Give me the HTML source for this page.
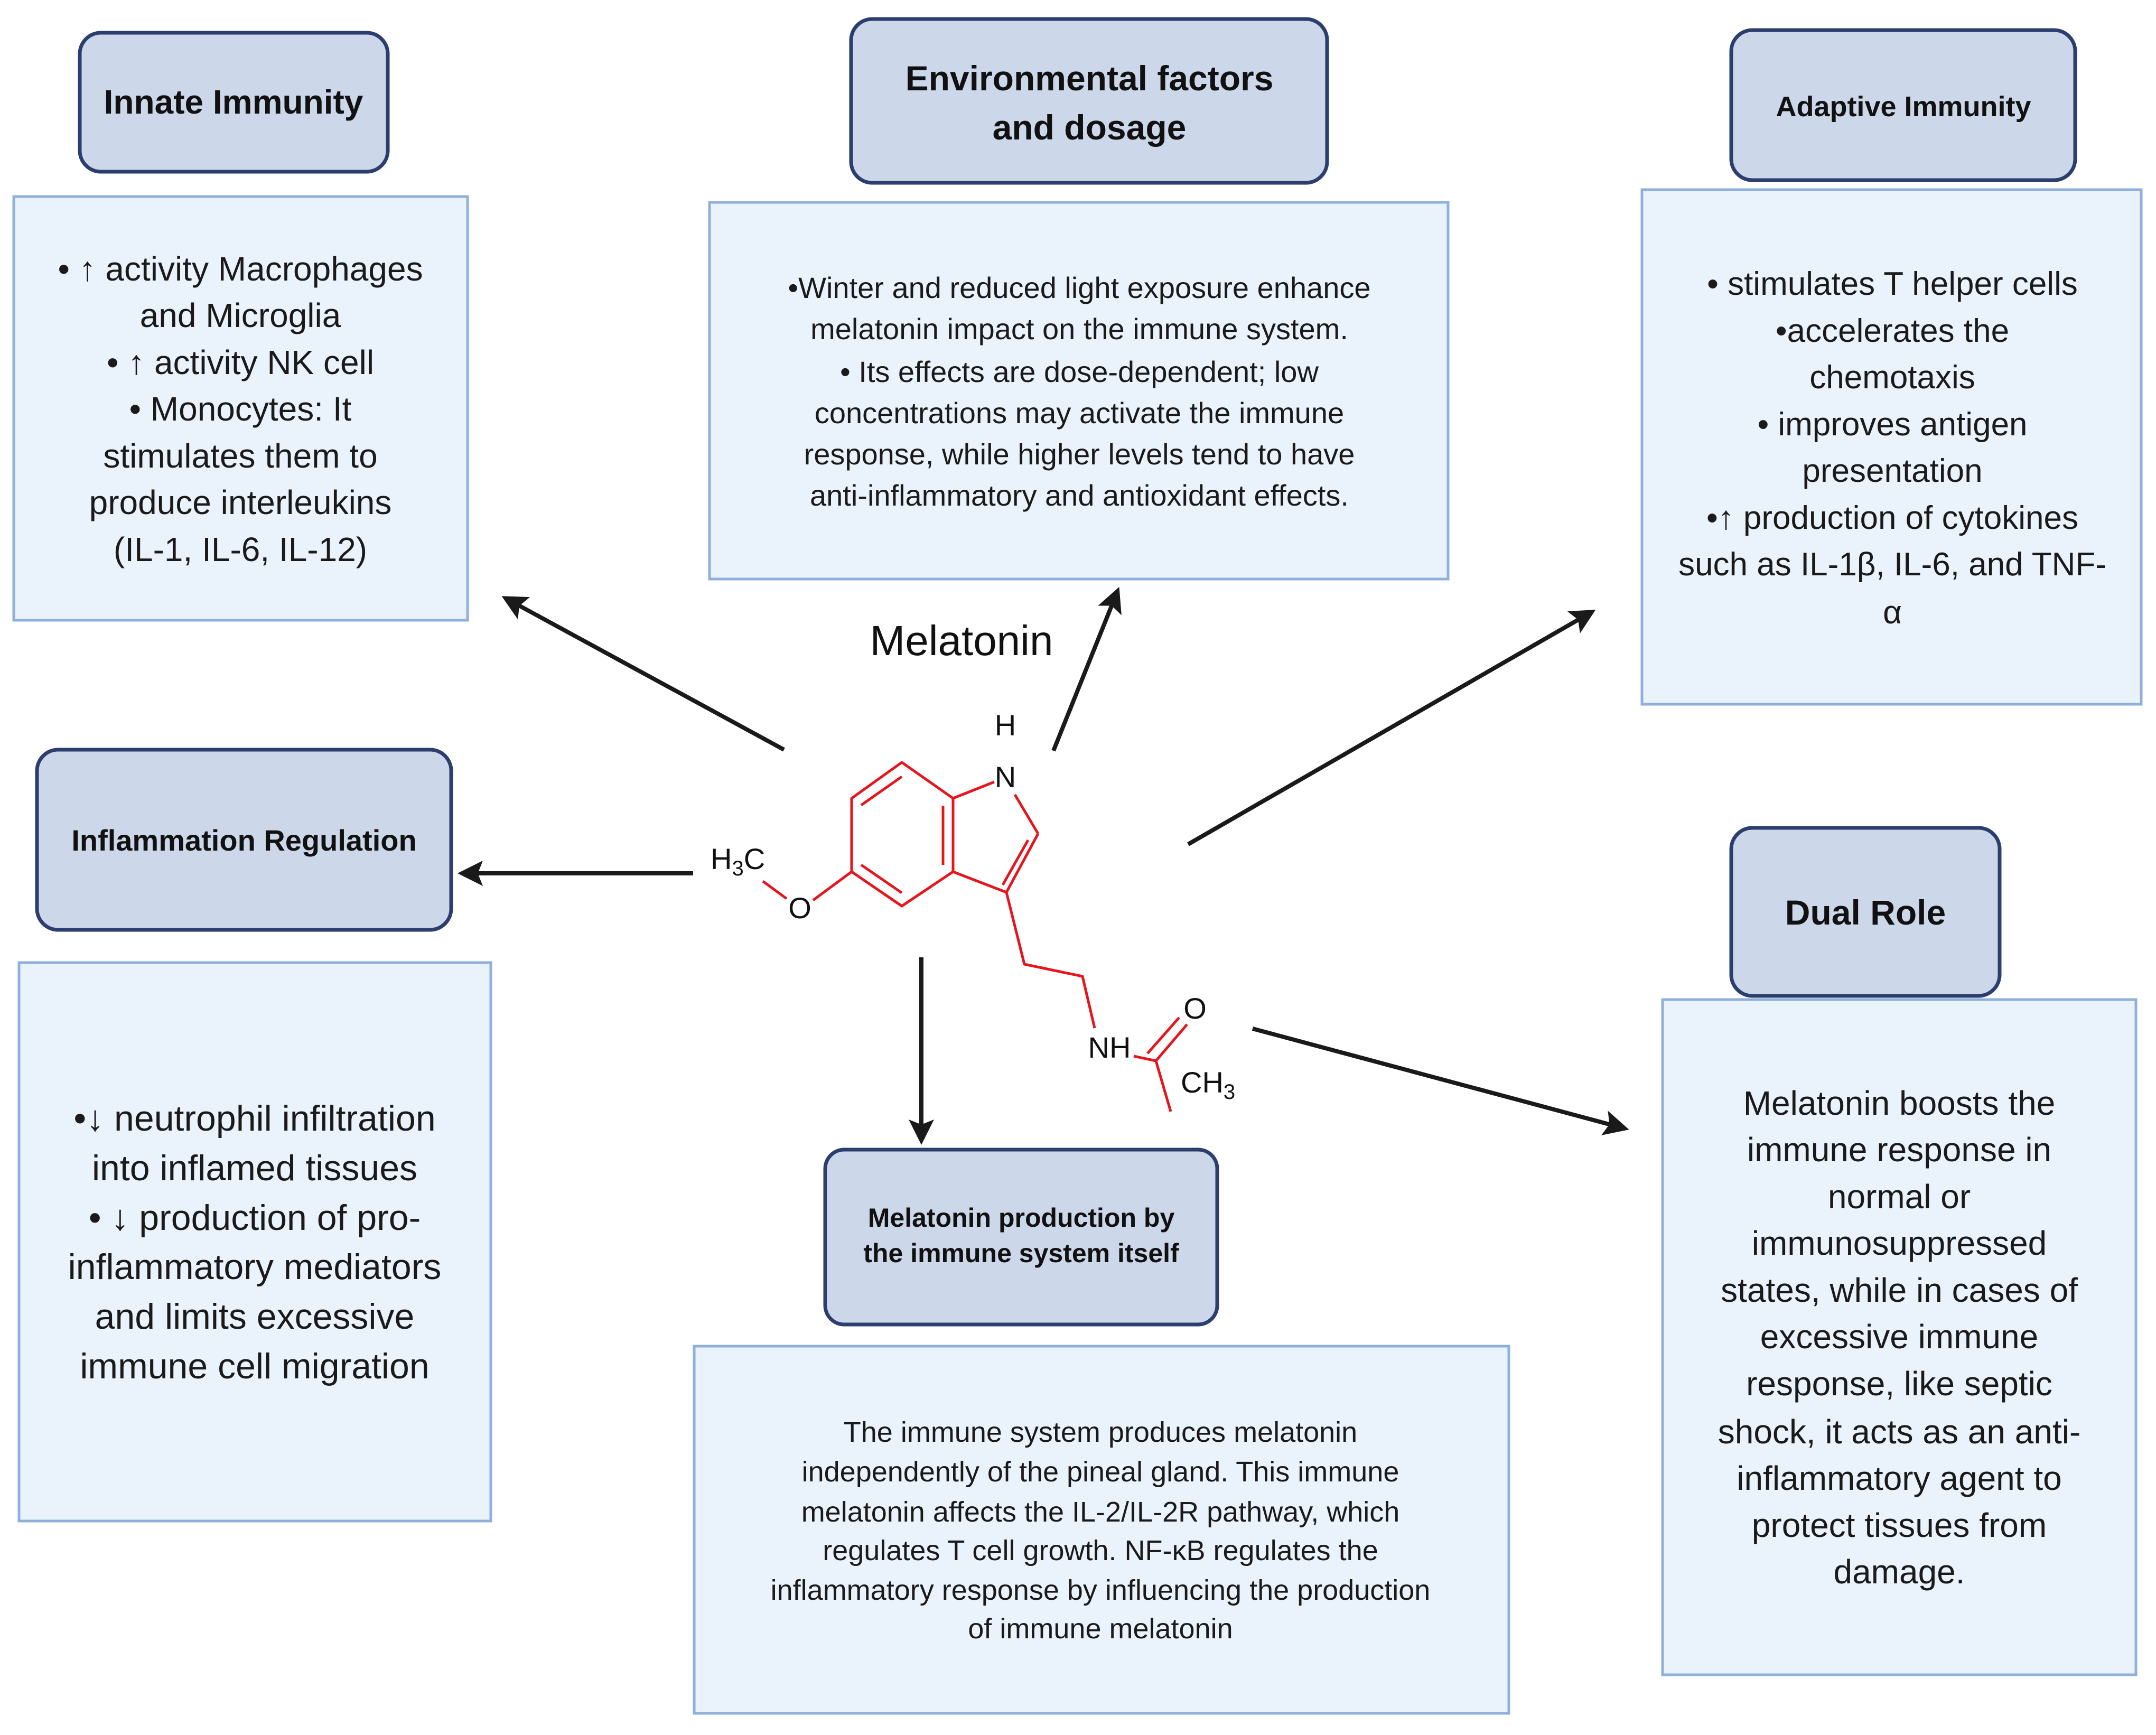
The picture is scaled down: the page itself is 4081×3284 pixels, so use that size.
<!DOCTYPE html>
<html><head><meta charset="utf-8"><style>
html,body{margin:0;padding:0;background:#fff;}
svg{display:block;}
.h{font-family:"Liberation Sans",sans-serif;font-weight:bold;fill:#111;text-anchor:middle;}
.t{font-family:"Liberation Sans",sans-serif;fill:#1a1a1a;text-anchor:middle;}
.a{font-family:"Liberation Sans",sans-serif;fill:#111;}
</style></head><body>
<svg width="4081" height="3284" viewBox="0 0 4081 3284" xmlns="http://www.w3.org/2000/svg">
<defs>
<marker id="ah" markerWidth="6" markerHeight="6" refX="4.5" refY="3" orient="auto" markerUnits="strokeWidth">
<path d="M0,0 L6,3 L0,6 L1.2,3 Z" fill="#1a1a1a"/>
</marker>
</defs>
<rect width="4081" height="3284" fill="#fff"/>

<!-- content boxes -->
<g fill="#eaf2fc" stroke="#8fb0dc" stroke-width="5">
<rect x="26" y="372" width="859" height="802"/>
<rect x="1343" y="383" width="1398" height="713"/>
<rect x="3108" y="359" width="945" height="974"/>
<rect x="36" y="1822" width="893" height="1057"/>
<rect x="1314" y="2548" width="1542" height="695"/>
<rect x="3147" y="1892" width="896" height="1278"/>
</g>

<!-- header boxes -->
<g fill="#cdd7ea" stroke="#2c3e6e" stroke-width="7">
<rect x="151" y="62" width="583" height="263" rx="40"/>
<rect x="1611" y="36" width="901" height="310" rx="40"/>
<rect x="3277" y="57" width="651" height="284" rx="40"/>
<rect x="70" y="1419" width="784" height="341" rx="40"/>
<rect x="1562" y="2176" width="742" height="331" rx="36"/>
<rect x="3277" y="1567" width="508" height="318" rx="40"/>
</g>

<!-- header text -->
<text class="h" x="442" y="215" font-size="64">Innate Immunity</text>
<text class="h" x="2062" y="171" font-size="66">Environmental factors</text>
<text class="h" x="2062" y="264" font-size="66">and dosage</text>
<text class="h" x="3603" y="220" font-size="54">Adaptive Immunity</text>
<text class="h" x="462" y="1610" font-size="56">Inflammation Regulation</text>
<text class="h" x="1933" y="2322" font-size="50">Melatonin production by</text>
<text class="h" x="1933" y="2389" font-size="50">the immune system itself</text>
<text class="h" x="3531" y="1750" font-size="66">Dual Role</text>

<!-- innate content -->
<g class="t" font-size="64">
<text x="455" y="531">• ↑ activity Macrophages</text>
<text x="455" y="619">and Microglia</text>
<text x="455" y="708">• ↑ activity NK cell</text>
<text x="455" y="796">• Monocytes: It</text>
<text x="455" y="885">stimulates them to</text>
<text x="455" y="973">produce interleukins</text>
<text x="455" y="1062">(IL-1, IL-6, IL-12)</text>
</g>

<!-- env content -->
<g class="t" font-size="56">
<text x="2043" y="564">•Winter and reduced light exposure enhance</text>
<text x="2043" y="642">melatonin impact on the immune system.</text>
<text x="2043" y="723">• Its effects are dose-dependent; low</text>
<text x="2043" y="801">concentrations may activate the immune</text>
<text x="2043" y="879">response, while higher levels tend to have</text>
<text x="2043" y="957">anti-inflammatory and antioxidant effects.</text>
</g>

<!-- adaptive content -->
<g class="t" font-size="62">
<text x="3582" y="558">• stimulates T helper cells</text>
<text x="3582" y="647">•accelerates the</text>
<text x="3582" y="735">chemotaxis</text>
<text x="3582" y="824">• improves antigen</text>
<text x="3582" y="912">presentation</text>
<text x="3582" y="1001">•↑ production of cytokines</text>
<text x="3582" y="1089">such as IL-1β, IL-6, and TNF-</text>
<text x="3582" y="1180">α</text>
</g>

<!-- inflammation content -->
<g class="t" font-size="68">
<text x="482" y="2140">•↓ neutrophil infiltration</text>
<text x="482" y="2234">into inflamed tissues</text>
<text x="482" y="2328">• ↓ production of pro-</text>
<text x="482" y="2421">inflammatory mediators</text>
<text x="482" y="2515">and limits excessive</text>
<text x="482" y="2609">immune cell migration</text>
</g>

<!-- production content -->
<g class="t" font-size="54">
<text x="2083" y="2729">The immune system produces melatonin</text>
<text x="2083" y="2804">independently of the pineal gland. This immune</text>
<text x="2083" y="2880">melatonin affects the IL-2/IL-2R pathway, which</text>
<text x="2083" y="2953">regulates T cell growth. NF-κB regulates the</text>
<text x="2083" y="3028">inflammatory response by influencing the production</text>
<text x="2083" y="3101">of immune melatonin</text>
</g>

<!-- dual content -->
<g class="t" font-size="64">
<text x="3595" y="2110">Melatonin boosts the</text>
<text x="3595" y="2198">immune response in</text>
<text x="3595" y="2287">normal or</text>
<text x="3595" y="2375">immunosuppressed</text>
<text x="3595" y="2464">states, while in cases of</text>
<text x="3595" y="2552">excessive immune</text>
<text x="3595" y="2641">response, like septic</text>
<text x="3595" y="2732">shock, it acts as an anti-</text>
<text x="3595" y="2820">inflammatory agent to</text>
<text x="3595" y="2909">protect tissues from</text>
<text x="3595" y="2997">damage.</text>
</g>

<!-- arrows -->
<g stroke="#1a1a1a" stroke-width="8" fill="none" marker-end="url(#ah)">
<line x1="1484" y1="1419" x2="960" y2="1134"/>
<line x1="1994" y1="1421" x2="2114" y2="1122"/>
<line x1="2249" y1="1598" x2="3010" y2="1160"/>
<line x1="1312" y1="1653" x2="878" y2="1653"/>
<line x1="1744" y1="1812" x2="1744" y2="2155"/>
<line x1="2371" y1="1947" x2="3072" y2="2135"/>
</g>

<!-- Melatonin title -->
<text class="a" x="1820" y="1240" font-size="80" text-anchor="middle">Melatonin</text>

<!-- molecule -->
<g stroke="#e8141c" stroke-width="5" fill="none" stroke-linejoin="round">
<polygon points="1707,1443 1612,1511 1612,1650 1707,1715 1804,1650 1804,1511"/>
<line x1="1630" y1="1524" x2="1707" y2="1470"/>
<line x1="1785" y1="1525" x2="1785" y2="1637"/>
<line x1="1630" y1="1637" x2="1707" y2="1690"/>
<line x1="1804" y1="1511" x2="1882" y2="1480"/>
<line x1="1921" y1="1504" x2="1965" y2="1578"/>
<line x1="1965" y1="1578" x2="1905" y2="1689"/>
<line x1="1946" y1="1590" x2="1898" y2="1675"/>
<line x1="1905" y1="1689" x2="1804" y2="1650"/>
<polyline points="1905,1689 1939,1825 2049,1848 2072,1946"/>
<line x1="2146" y1="1999" x2="2188" y2="2008"/>
<line x1="2188" y1="2008" x2="2247" y2="1939"/>
<line x1="2172" y1="1994" x2="2232" y2="1926"/>
<line x1="2188" y1="2008" x2="2216" y2="2104"/>
<line x1="1539" y1="1704" x2="1612" y2="1650"/>
<line x1="1444" y1="1668" x2="1489" y2="1701"/>
</g>
<g class="a" font-size="56">
<text x="1903" y="1490" text-anchor="middle">N</text>
<text x="1903" y="1392" text-anchor="middle">H</text>
<text x="2100" y="2002" text-anchor="middle">NH</text>
<text x="2262" y="1928" text-anchor="middle">O</text>
<text x="2235" y="2068">CH<tspan font-size="40" dy="12">3</tspan></text>
<text x="1514" y="1738" text-anchor="middle">O</text>
<text x="1345" y="1645">H<tspan font-size="40" dy="12">3</tspan><tspan dy="-12">C</tspan></text>
</g>
</svg>
</body></html>
